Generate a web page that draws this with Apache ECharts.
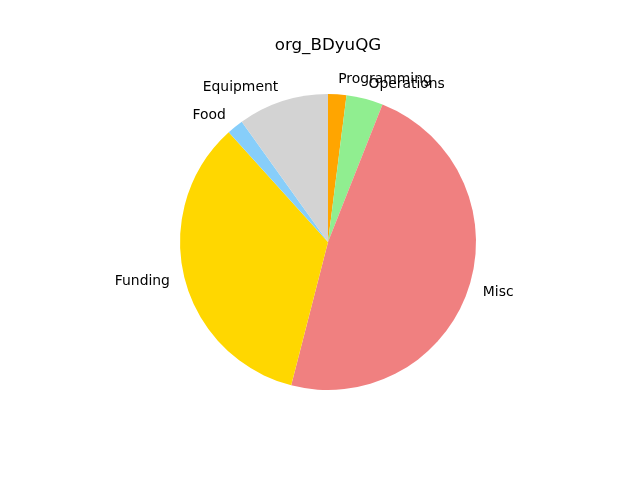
<!DOCTYPE html>
<html>
<head>
    <meta charset="utf-8" />
    <title>org_BDyuQG</title>
    <script src="https://cdn.jsdelivr.net/npm/echarts@6/dist/echarts.min.js"></script>
    <style>
        html, body { margin: 0; padding: 0; background: #fff; }
        #main { width: 640px; height: 480px; }
    </style>
</head>
<body>
<div id="main"></div>
<script type="text/javascript">
    // slices in clockwise order from 12 o'clock
    var categories = ['Programming', 'Operations', 'Misc', 'Funding', 'Food', 'Equipment'];
    var values = [2.0, 4.0, 48.0, 34.3, 1.8, 9.9];
    var colors = ['#FFA500', '#90EE90', '#F08080', '#FFD700', '#87CEFA', '#D3D3D3'];

    var myChart = echarts.init(document.getElementById('main'));
    var pieData = [];
    for (var i = 0; i < categories.length; i++) {
        pieData.push({ name: categories[i], value: values[i], itemStyle: { color: colors[i] } });
    }
    var option = {
        animation: false,
        title: {
            text: 'org_BDyuQG',
            left: 323,
            top: 32,
            textAlign: 'center',
            textStyle: { fontFamily: 'DejaVu Sans', fontSize: 16.7, fontWeight: 'normal', color: '#000' }
        },
        series: [
            {
                type: 'pie',
                center: [328, 242],
                radius: 148,
                startAngle: 90,
                clockwise: true,
                avoidLabelOverlap: false,
                silent: true,
                itemStyle: { borderWidth: 0 },
                label: {
                    show: true,
                    position: 'outside',
                    fontFamily: 'DejaVu Sans',
                    fontSize: 13.9,
                    color: '#000'
                },
                labelLine: { show: false, length: 14.8, length2: -5 },
                labelLayout: { hideOverlap: false },
                data: pieData
            }
        ]
    };
    myChart.setOption(option);
</script>
</body>
</html>
